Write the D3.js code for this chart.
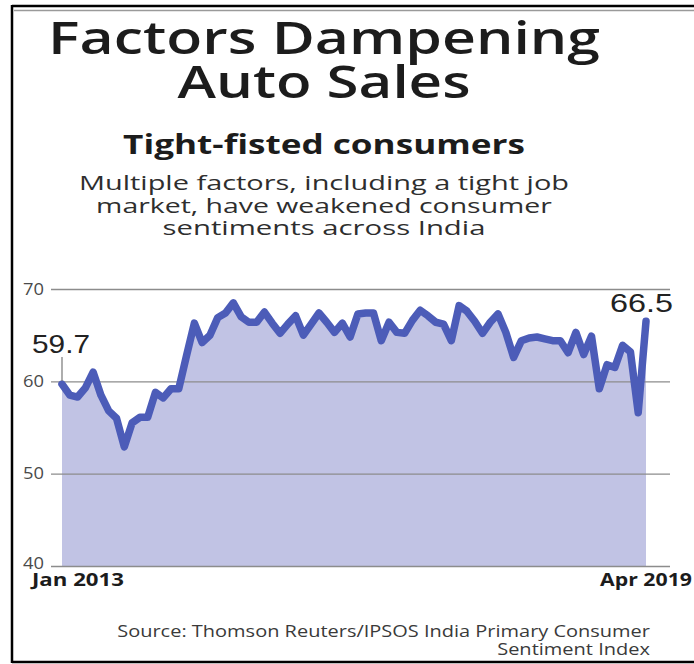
<!DOCTYPE html>
<html>
<head>
<meta charset="utf-8">
<script src="https://cdn.jsdelivr.net/npm/d3@7/dist/d3.min.js"></script>
<style>
  html, body { margin: 0; padding: 0; background: #fff; }
  svg { display: block; }
</style>
</head>
<body>
<div id="chart"></div>
<script>
// Thomson Reuters/IPSOS India Primary Consumer Sentiment Index, monthly, Jan 2013 – Apr 2019
const startMonth = "Jan 2013";
const endMonth = "Apr 2019";
const sentiment = [
  59.7, 58.5, 58.3, 59.3, 61.0, 58.5, 56.8, 56.0, 52.9, 55.5,
  56.1, 56.1, 58.8, 58.2, 59.2, 59.2, 62.8, 66.3, 64.2, 65.0,
  66.9, 67.4, 68.5, 67.0, 66.4, 66.4, 67.5, 66.3, 65.2, 66.2,
  67.1, 65.0, 66.2, 67.4, 66.4, 65.3, 66.3, 64.8, 67.3, 67.4,
  67.4, 64.4, 66.4, 65.3, 65.2, 66.6, 67.7, 67.1, 66.4, 66.2,
  64.4, 68.2, 67.6, 66.5, 65.2, 66.4, 67.3, 65.3, 62.6, 64.4,
  64.7, 64.8, 64.6, 64.4, 64.4, 63.1, 65.3, 62.9, 64.9, 59.2,
  61.8, 61.5, 63.9, 63.2, 56.6, 66.5
];
const yTicks = [40, 50, 60, 70];
const titleLines = ["Factors Dampening", "Auto Sales"];
const subtitle = "Tight-fisted consumers";
const descLines = [
  "Multiple factors, including a tight job",
  "market, have weakened consumer",
  "sentiments across India"
];
const sourceLines = [
  "Source: Thomson Reuters/IPSOS India Primary Consumer",
  "Sentiment Index"
];

const W = 694, H = 664;
const svg = d3.select("#chart").append("svg")
  .attr("width", W).attr("height", H);

const sans = "'Open Sans', 'Noto Sans', sans-serif";
const grotesk = "'Liberation Sans', Arial, sans-serif";

// Place a text line at (x, y) and widen its glyphs to the given measure.
function wideText(parent, str, x, y, width, anchor, style) {
  const g = parent.append("g");
  const t = g.append("text")
    .attr("text-anchor", anchor || "start")
    .attr("font-family", style.family || sans)
    .attr("font-weight", style.weight || 400)
    .attr("font-size", style.size)
    .attr("fill", style.fill || "#1c1c1c")
    .text(str);
  const natural = t.node().getComputedTextLength();
  const s = natural > 0 ? width / natural : 1;
  g.attr("transform", `translate(${x},${y}) scale(${s},1)`);
  return t;
}

// frame
svg.append("line").attr("x1", 12).attr("x2", W).attr("y1", 6).attr("y2", 6)
  .attr("stroke", "#000").attr("stroke-width", 2.5);
svg.append("line").attr("x1", 14).attr("x2", W).attr("y1", 10.5).attr("y2", 10.5)
  .attr("stroke", "#9a9a9a").attr("stroke-width", 1.5);
svg.append("line").attr("x1", 12).attr("x2", 12).attr("y1", 5).attr("y2", 663)
  .attr("stroke", "#000").attr("stroke-width", 2.5);
svg.append("line").attr("x1", 12).attr("x2", W).attr("y1", 662).attr("y2", 662)
  .attr("stroke", "#000").attr("stroke-width", 2.5);

// headings
const cx = 324;
const titleWidths = [552, 293];
titleLines.forEach((s, i) =>
  wideText(svg, s, cx, 54 + i * 44, titleWidths[i], "middle",
    { size: 45, weight: 600, fill: "#1c1c1c" }));

wideText(svg, subtitle, cx, 154, 402, "middle",
  { size: 27, weight: 700, fill: "#1c1c1c" });

const descWidths = [490, 456, 323];
descLines.forEach((s, i) =>
  wideText(svg, s, cx, 190 + i * 22.5, descWidths[i], "middle",
    { size: 20, fill: "#2e2e2e" }));

// scales
const x = d3.scaleLinear().domain([0, sentiment.length - 1]).range([62, 646]);
const y = d3.scaleLinear().domain([40, 70]).range([566, 289]);

// filled area under the index
const area = d3.area()
  .x((d, i) => x(i))
  .y0(y(40))
  .y1(d => y(d));
svg.append("path").datum(sentiment)
  .attr("d", area)
  .attr("fill", "#c1c3e4");

// gridlines
const yAxis = d3.axisLeft(y).tickValues(yTicks)
  .tickSize(-(670 - 51)).tickFormat("");
const gAxis = svg.append("g").attr("transform", "translate(51,0)").call(yAxis);
gAxis.select(".domain").remove();
gAxis.selectAll(".tick line").attr("stroke", "#8c8c8c").attr("stroke-width", 1.4);

// tick labels, right-aligned against the gridlines
yTicks.forEach(v =>
  wideText(svg, String(v), 44, y(v) + (v === 40 ? 3 : 5.5), 21, "end",
    { size: 15.5, fill: "#4a4a4a" }));

// index line
const line = d3.line().x((d, i) => x(i)).y(d => y(d));
svg.append("path").datum(sentiment)
  .attr("d", line)
  .attr("fill", "none")
  .attr("stroke", "#4c5cb8")
  .attr("stroke-width", 7.5)
  .attr("stroke-linejoin", "round")
  .attr("stroke-linecap", "round");

// first / last value callouts
const first = sentiment[0], last = sentiment[sentiment.length - 1];
svg.append("line")
  .attr("x1", x(0)).attr("x2", x(0))
  .attr("y1", 357).attr("y2", y(first) - 3)
  .attr("stroke", "#777").attr("stroke-width", 1.2);
wideText(svg, d3.format(".1f")(first), 32, 353, 58, "start",
  { family: grotesk, size: 25, fill: "#222" });
wideText(svg, d3.format(".1f")(last), 610, 312, 63, "start",
  { family: grotesk, size: 25, fill: "#222" });

// x end labels
wideText(svg, startMonth, 32, 586, 92, "start",
  { size: 17.5, weight: 700, fill: "#1c1c1c" });
wideText(svg, endMonth, 692, 586, 92, "end",
  { size: 17.5, weight: 700, fill: "#1c1c1c" });

// source note
const srcWidths = [533, 153];
sourceLines.forEach((s, i) =>
  wideText(svg, s, 650, 637 + i * 18, srcWidths[i], "end",
    { size: 15.5, fill: "#3a3a3a" }));
</script>
</body>
</html>
